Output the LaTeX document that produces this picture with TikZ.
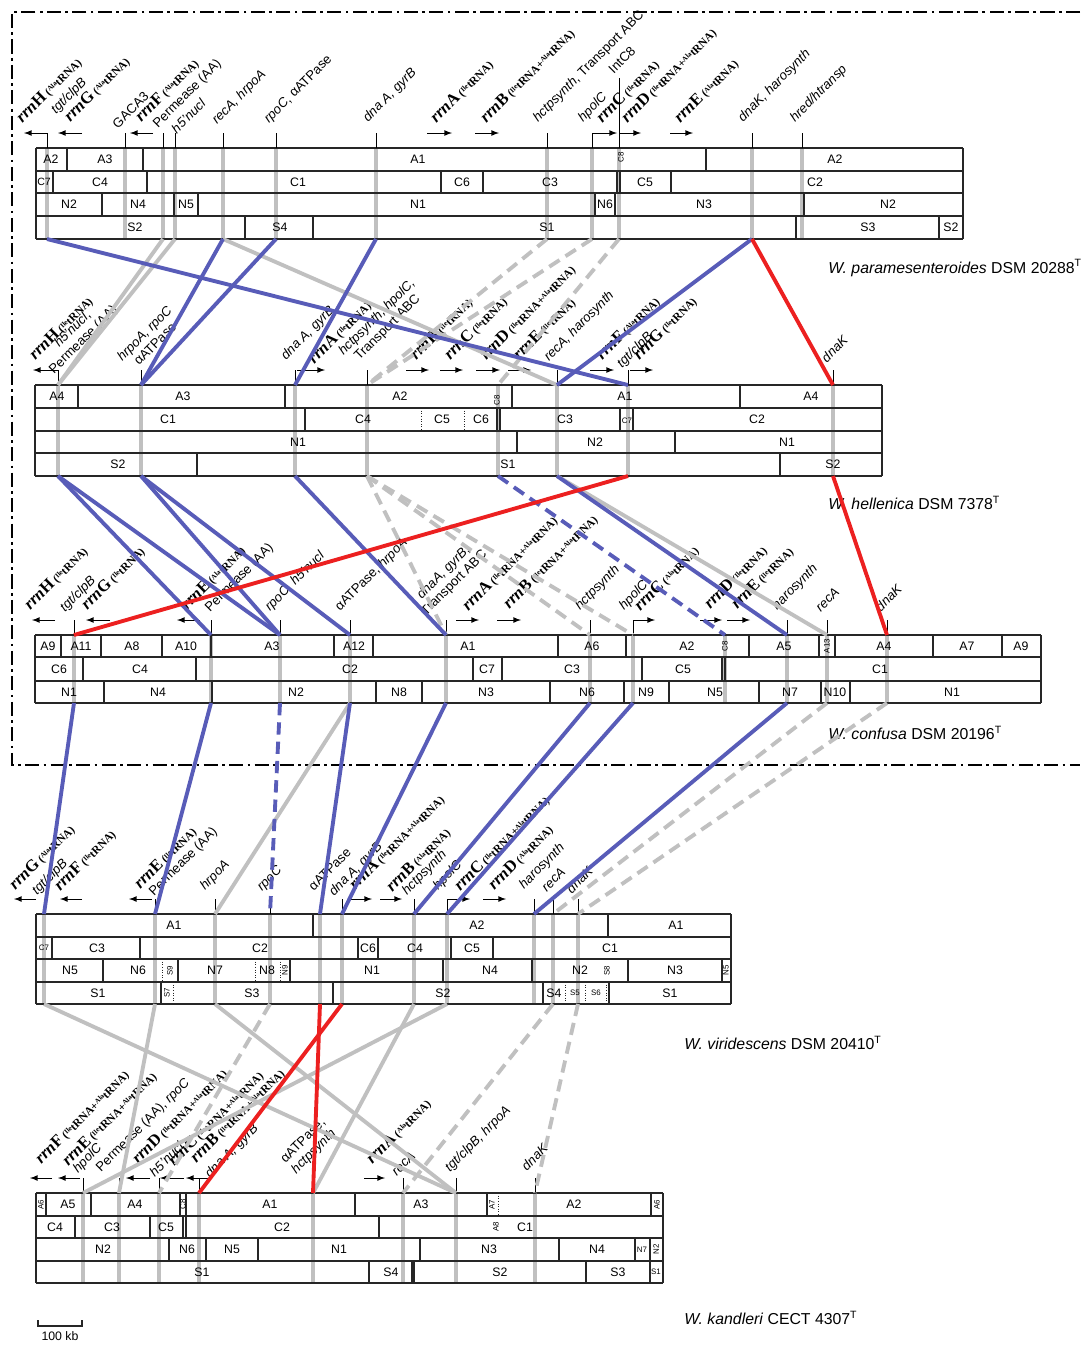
\documentclass[tikz,border=0pt]{standalone}
\usepackage{fontspec}
\setmainfont{Liberation Sans}
\newfontfamily\rrnfont{Liberation Serif}
\usepackage{tikz}
\usetikzlibrary{calc,positioning,arrows}

\definecolor{synblue}{RGB}{88,92,184}
\definecolor{synred}{RGB}{236,32,32}
\definecolor{syngray}{RGB}{192,192,192}

\newcommand\tr[1]{\raisebox{0.55ex}{\fontsize{4}{4}\selectfont #1}tRNA}
\newcommand\rrnlab[2]{{\rrnfont\bfseries\fontsize{9.5}{10}\selectfont\textit{rrn}#1}\,{\rrnfont\bfseries\fontsize{6.5}{7}\selectfont(#2)}}

\begin{document}
\begin{tikzpicture}[x=0.02cm, y=-0.02cm,
seg/.style = {draw=black!85, line width=0.6pt},
dotseg/.style = {draw=black!85, line width=0.5pt, densely dotted},
lbl/.style = {inner sep=0pt, font=\fontsize{7}{8}\selectfont},
tinylbl/.style = {inner sep=0pt, font=\fontsize{4.5}{5}\selectfont},
gbar/.style = {draw=syngray, line width=2.8pt},
gtick/.style = {draw=black, line width=0.5pt},
rrnarrow/.style = {draw=black, line width=0.5pt, -latex},
gene/.style = {rotate=45, anchor=south west, inner sep=0.5pt, align=center,
               font=\fontsize{7.5}{8.5}\selectfont},
rlab/.style = {rotate=45, anchor=south west, inner sep=0.5pt},
blueln/.style = {draw=synblue, line width=2.2pt},
redln/.style = {draw=synred, line width=2.2pt},
grayln/.style = {draw=syngray, line width=2.2pt},
brk/.style = {dash pattern=on 7pt off 4pt},
species/.style = {anchor=west, inner sep=0pt, font=\fontsize{9}{10}\selectfont},
dashframe/.style = {draw=black, line width=1.4pt,
                    dash pattern=on 8pt off 2.5pt on 1.5pt off 2.5pt}]

\useasboundingbox (0,0) rectangle (1086,1347);

% frame round the three related genomes
\draw[dashframe] (1080,12) -- (12,12) -- (12,765) -- (1080,765);

%%%%%%%%%%%%%%%%%%%%%%%% genome 1: W. paramesenteroides
\foreach \x in {47,125,163,175,223,276,376,547,592,619,752,802}
  {\coordinate (pa-\x-t) at (\x,148); \coordinate (pa-\x-b) at (\x,239);
   \draw[gbar] (pa-\x-t) -- (pa-\x-b);}
\foreach \y in {148,171,193,216,239} \draw[seg] (36,\y) -- (963,\y);
\draw[seg] (36,148) -- (36,239) (963,148) -- (963,239);
% row A
\foreach \x in {67,143,706} \draw[seg] (\x,148) -- (\x,171);
\foreach \x/\t in {51/A2,105/A3,418/A1,835/A2} \node[lbl] (pa\t-\x) at (\x,159.5) {\t};
\node[tinylbl, rotate=90] (paC8) at (621,157) {C8};
% row C
\foreach \x in {53,147,441,483,617,620,671} \draw[seg] (\x,171) -- (\x,193);
\foreach \x/\t in {100/C4,298/C1,462/C6,550/C3,645/C5,815/C2} \node[lbl] (pa\t-\x) at (\x,182) {\t};
\node[lbl, font=\fontsize{6}{6}\selectfont] (paC7) at (44,182) {C7};
% row N
\foreach \x in {102,174,198,595,615,804} \draw[seg] (\x,193) -- (\x,216);
\foreach \x/\t in {69/N2,138/N4,186/N5,418/N1,605/N6,704/N3,888/N2} \node[lbl] (pa\t-\x) at (\x,204.5) {\t};
% row S
\foreach \x in {245,313,796,939} \draw[seg] (\x,216) -- (\x,239);
\foreach \x/\t in {135/S2,280/S4,547/S1,868/S3,951/S2} \node[lbl] (pa\t-\x) at (\x,227.5) {\t};
% genes
\foreach \x in {47,125,163,175,223,276,376,547,592,752,802} \draw[gtick] (\x,133) -- (pa-\x-t);
\draw[gtick] (619,78) -- (pa-619-t);
\foreach \a/\b in {47/24,82/58,153/130,427/452,475/499,592/617,619/641,670/693}
  \draw[rrnarrow] (\a,133) -- (\b,133);
\node[rlab] (pa-rrnH) at (24,127) {\rrnlab{H}{\tr{Ala}}};
\node[gene] (pa-tgt) at (58,118) {\textit{tgt/clpB}};
\node[rlab] (pa-rrnG) at (72,126) {\rrnlab{G}{\tr{Ala}}};
\node[gene] (pa-gaca) at (118,131) {GACA3};
\node[rlab] (pa-rrnF) at (143,126) {\rrnlab{F}{\tr{Ala}}};
\node[gene] (pa-perm) at (160,132) {Permease (AA)};
\node[gene] (pa-h5) at (177,136) {\textit{h5'nucl}};
\node[gene] (pa-recA) at (219,128) {\textit{recA, hrpoA}};
\node[gene] (pa-rpoC) at (271,127) {\textit{rpoC}, αATPase};
\node[gene] (pa-dnaA) at (370,126) {\textit{dna A, gyrB}};
\node[rlab] (pa-rrnA) at (438,127) {\rrnlab{A}{\tr{Ile}}};
\node[rlab] (pa-rrnB) at (488,127) {\rrnlab{B}{\tr{Ile}+\tr{Ala}}};
\node[gene] (pa-hct) at (540,126) {\textit{hctpsynth}, Transport ABC};
\node[gene] (pa-hpol) at (585,126) {\textit{hpolC}};
\node[rlab] (pa-rrnC) at (604,127) {\rrnlab{C}{\tr{Ile}}};
\node[gene] (pa-int) at (614,76) {IntC8};
\node[rlab] (pa-rrnD) at (629,127) {\rrnlab{D}{\tr{Ile}+\tr{Ala}}};
\node[rlab] (pa-rrnE) at (682,127) {\rrnlab{E}{\tr{Ala}}};
\node[gene] (pa-dnaK) at (745,126) {\textit{dnaK, harosynth}};
\node[gene] (pa-hred) at (797,126) {\textit{hred/htransp}};
\node[species] (pa-name) at (828,268) {\textit{W. paramesenteroides} DSM 20288\textsuperscript{T}};

%%%%%%%%%%%%%%%%%%%%%%%% genome 2: W. hellenica
\foreach \x in {58,141,295,367,498,557,628,833}
  {\coordinate (he-\x-t) at (\x,385); \coordinate (he-\x-b) at (\x,476);
   \draw[gbar] (he-\x-t) -- (he-\x-b);}
\foreach \y in {385,408,431,453,476} \draw[seg] (35,\y) -- (882,\y);
\draw[seg] (35,385) -- (35,476) (882,385) -- (882,476);
% row A
\foreach \x in {78,285,512,740} \draw[seg] (\x,385) -- (\x,408);
\foreach \x/\t in {57/A4,183/A3,400/A2,625/A1,811/A4} \node[lbl] (he\t-\x) at (\x,396.5) {\t};
\node[tinylbl, rotate=90] (heC8) at (497,400) {C8};
% row C
\foreach \x in {305,497,500,620,633} \draw[seg] (\x,408) -- (\x,431);
\foreach \x in {421,464} \draw[dotseg] (\x,408) -- (\x,431);
\foreach \x/\t in {168/C1,363/C4,442/C5,481/C6,565/C3,757/C2} \node[lbl] (he\t-\x) at (\x,419.5) {\t};
\node[tinylbl] (heC7) at (627,421) {C7};
% row N
\foreach \x in {517,675} \draw[seg] (\x,431) -- (\x,453);
\foreach \x/\t in {298/N1,595/N2,787/N1} \node[lbl] (he\t-\x) at (\x,442) {\t};
% row S
\foreach \x in {197,780} \draw[seg] (\x,453) -- (\x,476);
\foreach \x/\t in {118/S2,508/S1,833/S2} \node[lbl] (he\t-\x) at (\x,464.5) {\t};
% genes
\foreach \x in {58,141,295,367,557,628,833} \draw[gtick] (\x,370) -- (he-\x-t);
\foreach \a/\b in {58/33,297/325,406/429,440/463,476/500,508/531,590/614,630/653}
  \draw[rrnarrow] (\a,370) -- (\b,370);
\node[rlab] (he-rrnH) at (37,364) {\rrnlab{H}{\tr{Ile}}};
\node[gene] (he-h5) at (56,378) {\textit{h5'nucl},\\Permease (AA)};
\node[gene] (he-hrpo) at (133,374) {\textit{hrpoA, rpoC}\\αATPase};
\node[gene] (he-dnaA) at (288,364) {\textit{dna A, gyrB}};
\node[rlab] (he-rrnA) at (316,368) {\rrnlab{A}{\tr{Ile}}};
\node[gene] (he-hct) at (356,370) {\textit{hctpsynth, hpolC,}\\Transport ABC};
\node[rlab] (he-rrnB) at (418,364) {\rrnlab{B}{\tr{Ile}}};
\node[rlab] (he-rrnC) at (452,364) {\rrnlab{C}{\tr{Ile}}};
\node[rlab] (he-rrnD) at (488,364) {\rrnlab{D}{\tr{Ile}+\tr{Ala}}};
\node[rlab] (he-rrnE) at (521,364) {\rrnlab{E}{\tr{Ile}}};
\node[gene] (he-recA) at (551,365) {\textit{recA, harosynth}};
\node[rlab] (he-rrnF) at (604,364) {\rrnlab{F}{\tr{Ala}}};
\node[gene] (he-tgt) at (624,372) {\textit{tgt/clpB}};
\node[rlab] (he-rrnG) at (641,364) {\rrnlab{G}{\tr{Ile}}};
\node[gene] (he-dnaK) at (827,365) {\textit{dnaK}};
\node[species] (he-name) at (828,503) {\textit{W. hellenica} DSM 7378\textsuperscript{T}};

%%%%%%%%%%%%%%%%%%%%%%%% genome 3: W. confusa
\foreach \x in {74,211,280,350,446,590,633,725,787,827,887}
  {\coordinate (co-\x-t) at (\x,635); \coordinate (co-\x-b) at (\x,703);
   \draw[gbar] (co-\x-t) -- (co-\x-b);}
\foreach \y in {635,657,681,703} \draw[seg] (35,\y) -- (1041,\y);
\draw[seg] (35,635) -- (35,703) (1041,635) -- (1041,703);
% row A
\foreach \x in {61,101,162,211,334,373,558,626,749,819,835,933,1002} \draw[seg] (\x,635) -- (\x,657);
\foreach \x/\t in {48/A9,81/A11,132/A8,186/A10,272/A3,354/A12,468/A1,592/A6,687/A2,784/A5,884/A4,967/A7,1021/A9}
  \node[lbl] (co\t-\x) at (\x,646) {\t};
\node[tinylbl, rotate=90] (coC8) at (725,646) {C8};
\node[tinylbl, rotate=90] (coA13) at (827,646) {A13};
% row C
\foreach \x in {83,196,473,502,642,722,725} \draw[seg] (\x,657) -- (\x,681);
\foreach \x/\t in {59/C6,140/C4,350/C2,487/C7,572/C3,683/C5,880/C1} \node[lbl] (co\t-\x) at (\x,669) {\t};
% row N
\foreach \x in {104,212,376,422,550,624,669,759,821,850} \draw[seg] (\x,681) -- (\x,703);
\foreach \x/\t in {69/N1,158/N4,296/N2,399/N8,486/N3,587/N6,646/N9,715/N5,790/N7,835/N10,952/N1}
  \node[lbl] (co\t-\x) at (\x,692) {\t};
% genes
\foreach \x in {74,211,280,350,446,590,633,787,827,887} \draw[gtick] (\x,620) -- (co-\x-t);
\foreach \a/\b in {55/32,110/86,200/177,456/479,497/521,633/655,700/722,727/750}
  \draw[rrnarrow] (\a,620) -- (\b,620);
\node[rlab] (co-rrnH) at (32,614) {\rrnlab{H}{\tr{Ile}}};
\node[gene] (co-tgt) at (67,616) {\textit{tgt/clpB}};
\node[rlab] (co-rrnG) at (89,614) {\rrnlab{G}{\tr{Ile}}};
\node[rlab] (co-rrnE) at (189,614) {\rrnlab{E}{\tr{Ala}}};
\node[gene] (co-perm) at (212,616) {Permease (AA)};
\node[gene] (co-rpoC) at (272,615) {\textit{rpoC, h5'nucl}};
\node[gene] (co-atp) at (342,615) {αATPase, \textit{hrpoA}};
\node[gene] (co-dnaA) at (428,620) {\textit{dnaA, gyrB},\\Transport ABC};
\node[rlab] (co-rrnA) at (470,615) {\rrnlab{A}{\tr{Ile}+\tr{Ala}}};
\node[rlab] (co-rrnB) at (511,613) {\rrnlab{B}{\tr{Ile}+\tr{Ala}}};
\node[gene] (co-hct) at (582,614) {\textit{hctpsynth}};
\node[gene] (co-hpol) at (626,614) {\textit{hpolC}};
\node[rlab] (co-rrnC) at (642,615) {\rrnlab{C}{\tr{Ala}}};
\node[rlab] (co-rrnD) at (712,613) {\rrnlab{D}{\tr{Ile}}};
\node[rlab] (co-rrnE2) at (739,613) {\rrnlab{E}{\tr{Ile}}};
\node[gene] (co-haro) at (779,614) {\textit{harosynth}};
\node[gene] (co-recA) at (821,614) {\textit{recA}};
\node[gene] (co-dnaK) at (881,614) {\textit{dnaK}};
\node[species] (co-name) at (828,733) {\textit{W. confusa} DSM 20196\textsuperscript{T}};

%%%%%%%%%%%%%%%%%%%%%%%% genome 4: W. viridescens
\foreach \x in {44,155,215,270,320,342,414,447,534,553,578}
  {\coordinate (vi-\x-t) at (\x,914); \coordinate (vi-\x-b) at (\x,1004);
   \draw[gbar] (vi-\x-t) -- (vi-\x-b);}
\foreach \y in {914,937,959,982,1004} \draw[seg] (36,\y) -- (731,\y);
\draw[seg] (36,914) -- (36,1004) (731,914) -- (731,1004);
% row A
\foreach \x in {313,608} \draw[seg] (\x,914) -- (\x,937);
\foreach \x/\t in {174/A1,477/A2,676/A1} \node[lbl] (vi\t-\x) at (\x,925.5) {\t};
% row C
\foreach \x in {52,140,358,378,451,493} \draw[seg] (\x,937) -- (\x,959);
\foreach \x/\t in {97/C3,260/C2,368/C6,415/C4,472/C5,610/C1} \node[lbl] (vi\t-\x) at (\x,948) {\t};
\node[tinylbl] (viC7) at (44,948) {C7};
% row N
\foreach \x in {103,178,290,443,532,628,722} \draw[seg] (\x,959) -- (\x,982);
\foreach \x in {162,255,280} \draw[dotseg] (\x,959) -- (\x,982);
\foreach \x/\t in {70/N5,138/N6,215/N7,267/N8,372/N1,490/N4,580/N2,675/N3} \node[lbl] (vi\t-\x) at (\x,970.5) {\t};
\foreach \x/\t in {170/S9,285/N9,607/S8,726/N5} \node[tinylbl, rotate=90] (vi\t-\x) at (\x,970.5) {\t};
% row S
\foreach \x in {161,333,543,609} \draw[seg] (\x,982) -- (\x,1004);
\foreach \x in {173,565,585,606} \draw[dotseg] (\x,982) -- (\x,1004);
\foreach \x/\t in {98/S1,252/S3,443/S2,554/S4,670/S1} \node[lbl] (vi\t-\x) at (\x,993) {\t};
\node[tinylbl, rotate=90] (viS7) at (167,993) {S7};
\foreach \x/\t in {575/S5,596/S6} \node[tinylbl] (vi\t-\x) at (\x,993) {\t};
% genes
\foreach \x in {44,155,215,270,320,342,414,447,534,553,578} \draw[gtick] (\x,899) -- (vi-\x-t);
\foreach \a/\b in {36/14,82/60,152/129,348/372,380/402,447/470,483/506}
  \draw[rrnarrow] (\a,899) -- (\b,899);
\node[rlab] (vi-rrnG) at (17,894) {\rrnlab{G}{\tr{Ala}}};
\node[gene] (vi-tgt) at (39,899) {\textit{tgt/clpB}};
\node[rlab] (vi-rrnF) at (62,895) {\rrnlab{F}{\tr{Ile}}};
\node[rlab] (vi-rrnE) at (142,893) {\rrnlab{E}{\tr{Ile}}};
\node[gene] (vi-perm) at (156,900) {Permease (AA)};
\node[gene] (vi-hrpo) at (207,894) {\textit{hrpoA}};
\node[gene] (vi-rpoC) at (264,895) {\textit{rpoC}};
\node[gene] (vi-atp) at (314,893) {αATPase};
\node[gene] (vi-dnaA) at (336,900) {\textit{dna A, gyrB}};
\node[rlab] (vi-rrnA) at (357,894) {\rrnlab{A}{\tr{Ile}+\tr{Ala}}};
\node[rlab] (vi-rrnB) at (394,896) {\rrnlab{B}{\tr{Ala}}};
\node[gene] (vi-hct) at (409,899) {\textit{hctpsynth}};
\node[gene] (vi-hpol) at (440,894) {\textit{hpolC}};
\node[rlab] (vi-rrnC) at (462,895) {\rrnlab{C}{\tr{Ile}+\tr{Ala}}};
\node[rlab] (vi-rrnD) at (496,894) {\rrnlab{D}{\tr{Ala}}};
\node[gene] (vi-haro) at (526,893) {\textit{harosynth}};
\node[gene] (vi-recA) at (547,894) {\textit{recA}};
\node[gene] (vi-dnaK) at (572,896) {\textit{dnaK}};
\node[species] (vi-name) at (684,1043) {\textit{W. viridescens} DSM 20410\textsuperscript{T}};

%%%%%%%%%%%%%%%%%%%%%%%% genome 5: W. kandleri
\foreach \x in {83,119,159,199,313,403,456,535}
  {\coordinate (ka-\x-t) at (\x,1193); \coordinate (ka-\x-b) at (\x,1283);
   \draw[gbar] (ka-\x-t) -- (ka-\x-b);}
\foreach \y in {1193,1216,1238,1261,1283} \draw[seg] (36,\y) -- (663,\y);
\draw[seg] (36,1193) -- (36,1283) (663,1193) -- (663,1283);
% row A
\foreach \x in {46,91,180,186,355,487,651} \draw[seg] (\x,1193) -- (\x,1216);
\draw[dotseg] (498,1193) -- (498,1216);
\foreach \x/\t in {68/A5,135/A4,270/A1,421/A3,574/A2} \node[lbl] (ka\t-\x) at (\x,1204.5) {\t};
\foreach \x/\t in {41/A6,183/C8,492/A7,657/A6} \node[tinylbl, rotate=90] (ka\t-\x) at (\x,1204.5) {\t};
% row C
\foreach \x in {75,150,183,186,379} \draw[seg] (\x,1216) -- (\x,1238);
\foreach \x/\t in {55/C4,112/C3,166/C5,282/C2,525/C1} \node[lbl] (ka\t-\x) at (\x,1227) {\t};
\node[tinylbl, rotate=90] (kaA8) at (496,1227) {A8};
% row N
\foreach \x in {169,206,258,420,559,635,650} \draw[seg] (\x,1238) -- (\x,1261);
\foreach \x/\t in {103/N2,187/N6,232/N5,339/N1,489/N3,597/N4} \node[lbl] (ka\t-\x) at (\x,1249.5) {\t};
\node[tinylbl] (kaN7) at (642,1249.5) {N7};
\node[tinylbl, rotate=90] (kaN2) at (656,1249.5) {N2};
% row S
\foreach \x in {369,412,414,586,650} \draw[seg] (\x,1261) -- (\x,1283);
\foreach \x/\t in {202/S1,391/S4,500/S2,618/S3} \node[lbl] (ka\t-\x) at (\x,1272) {\t};
\node[tinylbl] (kaS1) at (656,1272) {S1};
% genes
\foreach \x in {83,119,159,199,313,403,456,535} \draw[gtick] (\x,1178) -- (ka-\x-t);
\foreach \a/\b in {52/30,80/58,150/126,184/160,208/186,364/385}
  \draw[rrnarrow] (\a,1178) -- (\b,1178);
\node[rlab] (ka-rrnF) at (43,1168) {\rrnlab{F}{\tr{Ile}+\tr{Ala}}};
\node[rlab] (ka-rrnE) at (70,1170) {\rrnlab{E}{\tr{Ile}+\tr{Ala}}};
\node[gene] (ka-hpol) at (80,1177) {\textit{hpolC}};
\node[gene] (ka-perm) at (103,1176) {Permease (AA), \textit{rpoC}};
\node[rlab] (ka-rrnD) at (140,1168) {\rrnlab{D}{\tr{Ile}+\tr{Ala}}};
\node[gene] (ka-h5) at (155,1179) {\textit{h5'nucl}};
\node[rlab] (ka-rrnC) at (176,1170) {\rrnlab{C}{\tr{Ile}+\tr{Ala}}};
\node[rlab] (ka-rrnB) at (198,1167) {\rrnlab{B}{\tr{Ile}+\tr{Ala}}};
\node[gene] (ka-dnaA) at (212,1182) {\textit{dna A, gyrB}};
\node[gene] (ka-atp) at (298,1178) {αATPase,\\\textit{hctpsynth}};
\node[rlab] (ka-rrnA) at (374,1168) {\rrnlab{A}{\tr{Ala}}};
\node[gene] (ka-recA) at (397,1178) {\textit{recA}};
\node[gene] (ka-tgt) at (452,1176) {\textit{tgt/clpB, hrpoA}};
\node[gene] (ka-dnaK) at (527,1173) {\textit{dnaK}};
\node[species] (ka-name) at (684,1318) {\textit{W. kandleri} CECT 4307\textsuperscript{T}};

% scale bar
\coordinate (sb-l) at (38,1326);
\coordinate (sb-r) at (82,1326);
\draw[seg] ($(sb-l)+(0,-6)$) -- (sb-l) -- (sb-r) -- ($(sb-r)+(0,-6)$);
\node[lbl, below=3pt of $(sb-l)!0.5!(sb-r)$] (sb-txt) {100 kb};

%%%%%%%%%%%%%%%%%%%%%%%% synteny connectors
% paramesenteroides -> hellenica
\draw[grayln] (pa-163-b) -- (he-58-t);
\draw[grayln] (pa-175-b) -- (he-58-t);
\draw[grayln] (pa-223-b) -- (he-557-t);
\draw[grayln, brk] (pa-547-b) -- (he-367-t);
\draw[grayln, brk] (pa-592-b) -- (he-367-t);
\draw[grayln, brk] (pa-619-b) -- (he-498-t);
\draw[blueln] (pa-47-b) -- (he-628-t);
\draw[blueln] (pa-223-b) -- (he-141-t);
\draw[blueln] (pa-276-b) -- (he-141-t);
\draw[blueln] (pa-376-b) -- (he-295-t);
\draw[blueln] (pa-752-b) -- (he-557-t);
\draw[redln] (pa-752-b) -- (he-833-t);
% hellenica -> confusa
\draw[grayln] (he-557-b) -- (co-827-t);
\draw[grayln, brk] (he-367-b) -- (co-446-t);
\draw[grayln, brk] (he-367-b) -- (co-590-t);
\draw[grayln, brk] (he-367-b) -- (co-633-t);
\draw[blueln] (he-58-b) -- (co-211-t);
\draw[blueln] (he-58-b) -- (co-280-t);
\draw[blueln] (he-141-b) -- (co-280-t);
\draw[blueln] (he-141-b) -- (co-350-t);
\draw[blueln] (he-295-b) -- (co-446-t);
\draw[blueln] (he-557-b) -- (co-787-t);
\draw[blueln, brk] (he-498-b) -- (co-725-t);
\draw[redln] (he-628-b) -- (co-74-t);
\draw[redln] (he-833-b) -- (co-887-t);
% confusa -> viridescens
\draw[grayln] (co-350-b) -- (vi-215-t);
\draw[grayln, brk] (co-827-b) -- (vi-553-t);
\draw[grayln, brk] (co-887-b) -- (vi-578-t);
\draw[blueln] (co-74-b) -- (vi-44-t);
\draw[blueln] (co-211-b) -- (vi-155-t);
\draw[blueln] (co-350-b) -- (vi-320-t);
\draw[blueln] (co-446-b) -- (vi-342-t);
\draw[blueln] (co-590-b) -- (vi-414-t);
\draw[blueln] (co-633-b) -- (vi-447-t);
\draw[blueln] (co-787-b) -- (vi-534-t);
\draw[blueln, brk] (co-280-b) -- (vi-270-t);
% viridescens -> kandleri
\draw[grayln] (vi-44-b) -- (ka-456-t);
\draw[grayln] (vi-155-b) -- (ka-119-t);
\draw[grayln] (vi-215-b) -- (ka-456-t);
\draw[grayln] (vi-414-b) -- (ka-313-t);
\draw[grayln] (vi-447-b) -- (ka-83-t);
\draw[grayln, brk] (vi-270-b) -- (ka-159-t);
\draw[grayln, brk] (vi-553-b) -- (ka-403-t);
\draw[grayln, brk] (vi-578-b) -- (ka-535-t);
\draw[redln] (vi-320-b) -- (ka-313-t);
\draw[redln] (vi-342-b) -- (ka-199-t);
\end{tikzpicture}
\end{document}
